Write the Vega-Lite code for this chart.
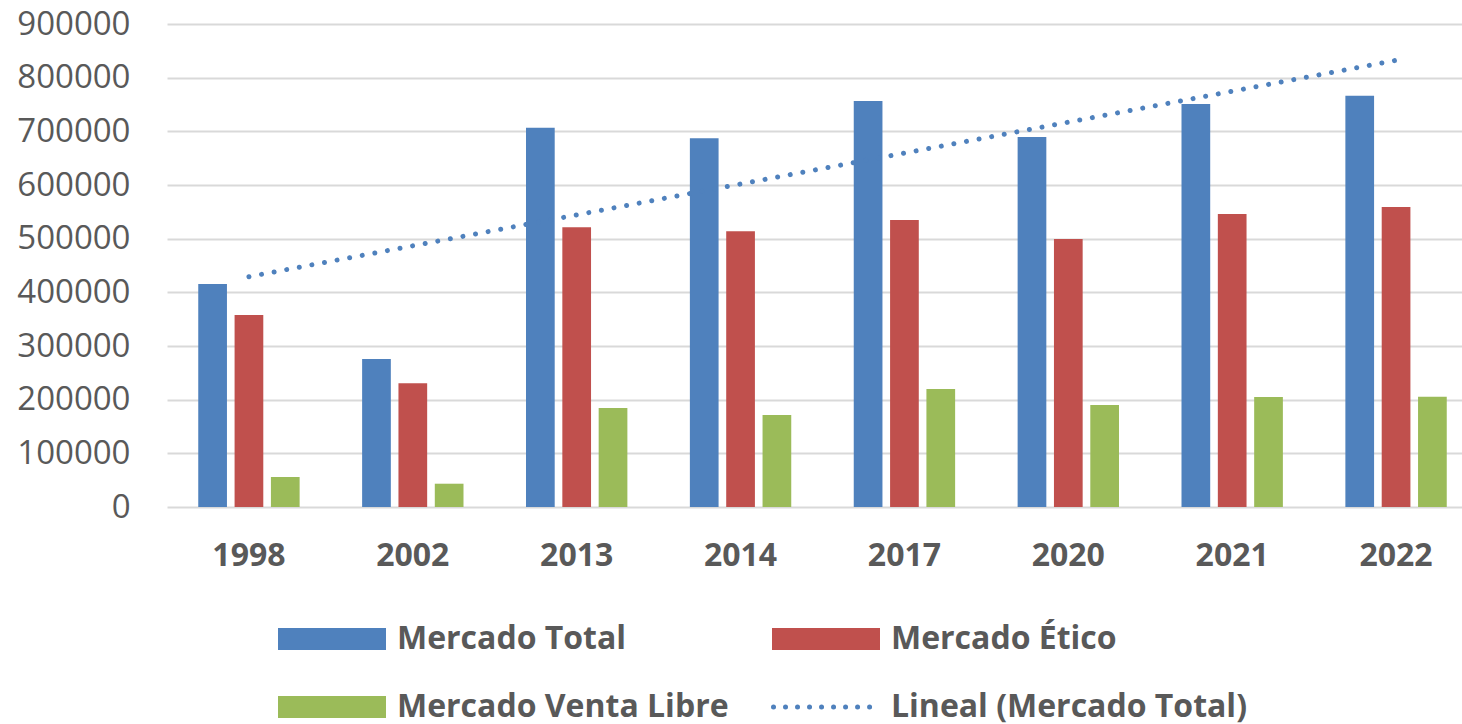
{
  "$schema": "https://vega.github.io/schema/vega-lite/v6.json",
  "width": 1295,
  "height": 483,
  "autosize": {"type": "none"},
  "padding": {"left": 167, "top": 24, "right": 0, "bottom": 217},
  "background": "white",
  "config": {
    "view": {"stroke": null},
    "font": "Open Sans"
  },
  "layer": [
    {
      "data": {"values": [
        {"anio": "1998", "serie": "Mercado Total", "valor": 415500},
        {"anio": "1998", "serie": "Mercado Ético", "valor": 357700},
        {"anio": "1998", "serie": "Mercado Venta Libre", "valor": 55900},
        {"anio": "2002", "serie": "Mercado Total", "valor": 275800},
        {"anio": "2002", "serie": "Mercado Ético", "valor": 230500},
        {"anio": "2002", "serie": "Mercado Venta Libre", "valor": 43400},
        {"anio": "2013", "serie": "Mercado Total", "valor": 706700},
        {"anio": "2013", "serie": "Mercado Ético", "valor": 521100},
        {"anio": "2013", "serie": "Mercado Venta Libre", "valor": 184500},
        {"anio": "2014", "serie": "Mercado Total", "valor": 687000},
        {"anio": "2014", "serie": "Mercado Ético", "valor": 514000},
        {"anio": "2014", "serie": "Mercado Venta Libre", "valor": 171400},
        {"anio": "2017", "serie": "Mercado Total", "valor": 756500},
        {"anio": "2017", "serie": "Mercado Ético", "valor": 534700},
        {"anio": "2017", "serie": "Mercado Venta Libre", "valor": 219900},
        {"anio": "2020", "serie": "Mercado Total", "valor": 689400},
        {"anio": "2020", "serie": "Mercado Ético", "valor": 499400},
        {"anio": "2020", "serie": "Mercado Venta Libre", "valor": 190000},
        {"anio": "2021", "serie": "Mercado Total", "valor": 750900},
        {"anio": "2021", "serie": "Mercado Ético", "valor": 545900},
        {"anio": "2021", "serie": "Mercado Venta Libre", "valor": 205000},
        {"anio": "2022", "serie": "Mercado Total", "valor": 766400},
        {"anio": "2022", "serie": "Mercado Ético", "valor": 559000},
        {"anio": "2022", "serie": "Mercado Venta Libre", "valor": 205500}
      ]},
      "mark": {"type": "bar"},
      "encoding": {
        "x": {"field": "anio", "type": "nominal", "sort": null},
        "xOffset": {
          "field": "serie", "type": "nominal",
          "scale": {"domain": ["Mercado Total", "Mercado Ético", "Mercado Venta Libre"], "paddingInner": 0.21, "paddingOuter": 0.86}
        },
        "y": {"field": "valor", "type": "quantitative"},
        "color": {"field": "serie", "type": "nominal"}
      }
    },
    {
      "data": {"values": [
        {"anio": "1998", "serie": "Lineal (Mercado Total)", "valor": 429100},
        {"anio": "2022", "serie": "Lineal (Mercado Total)", "valor": 832300}
      ]},
      "mark": {"type": "line", "strokeWidth": 5, "strokeDash": [0.01, 12.8], "strokeCap": "round"},
      "encoding": {
        "x": {"field": "anio", "type": "nominal", "sort": null},
        "y": {"field": "valor", "type": "quantitative"},
        "color": {"field": "serie", "type": "nominal"}
      }
    }
  ],
  "encoding": {
    "x": {
      "field": "anio", "type": "nominal", "sort": null,
      "scale": {"domain": ["1998", "2002", "2013", "2014", "2017", "2020", "2021", "2022"], "range": [0, 1311], "paddingInner": 0, "paddingOuter": 0},
      "axis": {
        "title": null, "domain": false, "ticks": false, "grid": false,
        "labelAngle": 0, "labelFont": "Open Sans", "labelFontSize": 32, "labelFontWeight": "bold",
        "labelColor": "#595959", "labelPadding": 33
      }
    },
    "y": {
      "field": "valor", "type": "quantitative",
      "scale": {"domain": [0, 900000], "nice": false},
      "axis": {
        "title": null, "domain": false, "ticks": false,
        "values": [0, 100000, 200000, 300000, 400000, 500000, 600000, 700000, 800000, 900000],
        "format": "d",
        "labelFont": "Open Sans", "labelFontSize": 33, "labelColor": "#595959", "labelPadding": 37,
        "gridColor": "#d9d9d9", "gridWidth": 2
      }
    },
    "color": {
      "field": "serie", "type": "nominal",
      "scale": {
        "domain": ["Mercado Total", "Mercado Ético", "Mercado Venta Libre", "Lineal (Mercado Total)"],
        "range": ["#4F81BD", "#C0504D", "#9BBB59", "#4F81BD"]
      },
      "legend": {
        "title": null,
        "orient": "none",
        "legendX": 110,
        "legendY": 599,
        "direction": "horizontal",
        "columns": 2,
        "columnPadding": 34,
        "rowPadding": 36,
        "symbolSize": 900,
        "symbolType": "M-1,-0.733H6.2V0.733H-1Z",
        "labelFont": "Open Sans",
        "labelFontSize": 32,
        "labelFontWeight": "bold",
        "labelColor": "#595959",
        "labelOffset": 88,
        "labelLimit": 600,
        "encode": {
          "symbols": {
            "update": {
              "shape": {"signal": "datum.value === 'Lineal (Mercado Total)' ? 'M-0.9,0H6.1' : 'M-1,-0.733H6.2V0.733H-1Z'"},
              "fill": {"signal": "datum.value === 'Lineal (Mercado Total)' ? 'transparent' : scale('color', datum.value)"},
              "stroke": {"signal": "scale('color', datum.value)"},
              "strokeWidth": {"signal": "datum.value === 'Lineal (Mercado Total)' ? 5 : 0"},
              "strokeDash": {"signal": "datum.value === 'Lineal (Mercado Total)' ? [0.01, 12] : [1, 0]"},
              "strokeCap": {"value": "round"},
              "opacity": {"value": 1}
            }
          }
        }
      }
    }
  }
}
